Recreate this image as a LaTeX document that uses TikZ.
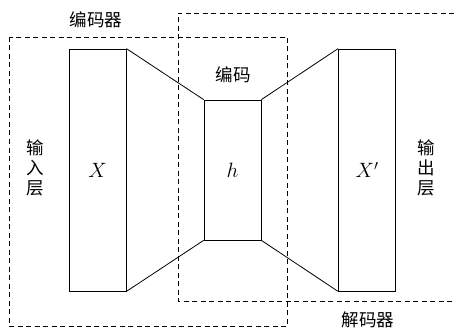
\documentclass[tikz,border=0pt]{standalone}
\usepackage{fontspec}
\newfontfamily\cjk{Noto Sans CJK SC}
\usepackage{tikz}
\usetikzlibrary{positioning, calc}
\usepackage{xcolor}

\begin{document}
\begin{tikzpicture}[x=1pt, y=-1pt, line width=0.8pt,
    lay/.style={draw, minimum width=57pt, inner sep=0pt,
                font=\fontsize{20}{20}\selectfont},
    grp/.style={draw, dash pattern=on 5pt off 3.5pt},
    lbl/.style={font=\cjk\fontsize{17.5}{20}\selectfont, inner sep=0pt}]
    \useasboundingbox (0,0) rectangle (454,331);
    % layers
    \node[lay, minimum height=242pt] (inx) at (97.5,170) {$X$};
    \node[lay, minimum height=140pt] (hid) at (232.5,170) {$h$};
    \node[lay, minimum height=242pt] (outx) at (367,170) {$X'$};
    \draw (inx.north east) -- (hid.north west);
    \draw (inx.south east) -- (hid.south west);
    \draw (hid.north east) -- (outx.north west);
    \draw (hid.south east) -- (outx.south west);
    % encoder / decoder
    \draw[grp] (9,37) rectangle (287,326);
    \draw[grp] (454,13) -- (178,13) -- (178,301) -- (454,301);
    \node[lbl] (enc) at (96,20) {编码器};
    \node[lbl] (code) at (233,75) {编码};
    \node[lbl] (dec) at (368,320) {解码器};
    \node[lbl, align=center] (inl) at (35,168) {输\\入\\层};
    \node[lbl, align=center] (outl) at (426,168) {输\\出\\层};
  \end{tikzpicture}
\end{document}
